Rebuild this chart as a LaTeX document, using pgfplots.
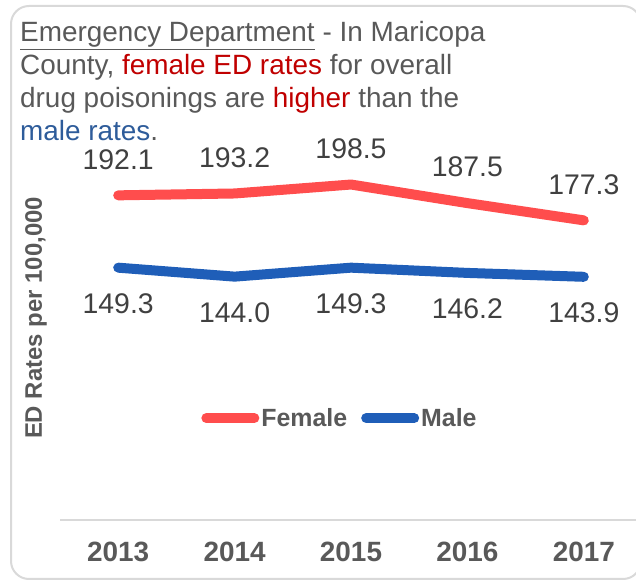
\documentclass[border=0pt]{standalone}
\usepackage{fontspec}
\setmainfont{Liberation Sans}
\usepackage{pgfplots}
\pgfplotsset{compat=1.18}

\definecolor{txtgrey}{RGB}{89,89,89}
\definecolor{lblgrey}{RGB}{64,64,64}
\definecolor{hired}{RGB}{192,0,0}
\definecolor{hiblue}{RGB}{46,92,154}
\definecolor{femred}{RGB}{255,77,77}
\definecolor{maleblue}{RGB}{31,94,184}
\definecolor{framegrey}{RGB}{217,217,217}

\newcommand{\titlefont}{\fontsize{28}{33}\selectfont}

\begin{document}
\begin{tikzpicture}[x=1bp,y=1bp]
\useasboundingbox (0,0) rectangle (636,581);
% frame
\draw[framegrey, line width=2bp, rounded corners=18bp] (11,2) rectangle (641,575);

% title, one node per line
\begin{scope}[every node/.style={anchor=base west, inner sep=0pt, font=\titlefont, text=txtgrey}]
\node at (20,539) {\underline{Emergency Department} - In Maricopa};
\node at (20,506) {County, \textcolor{hired}{female ED rates} for overall};
\node at (20,473) {drug poisonings are \textcolor{hired}{higher} than the};
\node at (20,440) {\textcolor{hiblue}{male rates}.};
\end{scope}

% y label
\node[rotate=90, text=txtgrey, font=\fontsize{24}{27}\selectfont\bfseries] at (36,263) {ED Rates per 100,000};

\begin{axis}[
  at={(60bp,61bp)}, anchor=south west,
  scale only axis,
  width=582bp, height=422.5bp,
  xmin=-0.5, xmax=4.5,
  ymin=0, ymax=250,
  axis x line=bottom,
  axis y line=none,
  x axis line style={framegrey, line width=1.5bp, -},
  xtick={0,1,2,3,4},
  xticklabels={2013,2014,2015,2016,2017},
  major tick length=0pt,
  xticklabel style={anchor=center, yshift=-32bp, text=txtgrey,
    font=\fontsize{28}{32}\selectfont\bfseries},
  /pgf/number format/assume math mode=true,
  clip=false,
  nodes near coords={\pgfmathprintnumber[fixed,fixed zerofill,precision=1]{\pgfplotspointmeta}},
  legend style={at={(0.481,0.241)}, anchor=center, draw=none, fill=none,
    font=\fontsize{25}{28}\selectfont\bfseries, text=txtgrey,
    legend columns=2, nodes={inner xsep=2bp},
    /tikz/every even column/.append style={column sep=12bp}},
  legend image code/.code={\draw[#1, line width=10bp, line cap=round] (6bp,0bp) -- (54bp,0bp);},
]
\addplot[femred, line width=10bp, line cap=round, line join=round,
  every node near coord/.append style={anchor=center, yshift=36bp, text=lblgrey,
    font=\fontsize{28.5}{32}\selectfont}]
  coordinates {(0,192.1) (1,193.2) (2,198.5) (3,187.5) (4,177.3)};
\addplot[maleblue, line width=10bp, line cap=round, line join=round,
  every node near coord/.append style={anchor=center, yshift=-36bp, text=lblgrey,
    font=\fontsize{28.5}{32}\selectfont}]
  coordinates {(0,149.3) (1,144.0) (2,149.3) (3,146.2) (4,143.9)};
\legend{Female, Male}
\end{axis}
\end{tikzpicture}
\end{document}
